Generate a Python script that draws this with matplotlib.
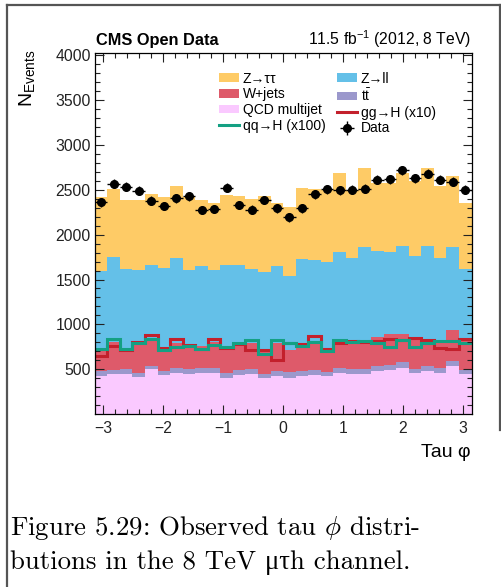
#!/usr/bin/env python3

import matplotlib

matplotlib.use("Agg")
import matplotlib.pyplot as plt
import numpy as np
from matplotlib.lines import Line2D
from matplotlib.patches import Patch

# tau phi, 30 bins from -pi to pi
N_BINS = 30
PHI_MIN = -np.pi
PHI_MAX = np.pi

# per-process bin contents (stack order: bottom to top)
QCD = [427, 442, 442, 416, 497, 434, 460, 442, 453, 453, 397, 434, 442, 405, 427,
       397, 427, 434, 423, 453, 442, 442, 483, 494, 516, 460, 475, 460, 538, 442]
TTBAR = [56, 48, 59, 44, 41, 45, 49, 63, 59, 56, 63, 56, 59, 41, 56,
         67, 52, 52, 49, 59, 55, 59, 55, 55, 59, 45, 56, 52, 56, 44]
WJETS = [230, 316, 212, 327, 287, 251, 278, 256, 249, 290, 301, 290, 289, 279, 304,
         249, 290, 313, 256, 268, 302, 286, 320, 342, 312, 345, 305, 275, 338, 350]
ZLL = [887, 949, 906, 820, 842, 900, 954, 846, 887, 808, 898, 879, 832, 860, 865,
       824, 961, 923, 965, 1031, 942, 1080, 957, 913, 987, 917, 1038, 954, 935, 783]
ZTT = [815, 752, 766, 778, 785, 785, 803, 815, 737, 741, 782, 771, 774, 845, 700,
       767, 789, 789, 811, 878, 755, 874, 763, 774, 815, 833, 874, 800, 792, 729]

GGH_X10 = [646, 757, 713, 806, 876, 739, 836, 772, 730, 840, 740, 776, 710, 710, 602,
           788, 780, 869, 728, 787, 817, 799, 813, 836, 825, 843, 828, 739, 724, 836]
QQH_X100 = [724, 832, 720, 797, 838, 710, 743, 755, 722, 774, 750, 795, 822, 672, 822,
            790, 758, 802, 702, 825, 806, 811, 787, 750, 821, 746, 787, 817, 817, 787]

DATA = [2363, 2570, 2533, 2489, 2378, 2319, 2407, 2430, 2274, 2285, 2526, 2330, 2281, 2388, 2293,
        2193, 2293, 2452, 2507, 2496, 2504, 2511, 2611, 2618, 2718, 2630, 2681, 2611, 2593, 2504]

Y_TICKS = [500, 1000, 1500, 2000, 2500, 3000, 3500, 4000]
X_TICKS = [-3, -2, -1, 0, 1, 2, 3]

COL_QCD = "#fac9ff"
COL_TT = "#9b98cc"
COL_W = "#de5a6a"
COL_ZLL = "#64c0e8"
COL_ZTT = "#fecb66"
COL_GGH = "#c3202c"
COL_QQH = "#14a083"

W_PX, H_PX = 502, 587
DPI = 100

plt.rcParams.update({
    "font.family": ["Liberation Sans", "DejaVu Sans"],
    "mathtext.fontset": "custom",
    "mathtext.rm": "Liberation Sans",
    "mathtext.it": "Liberation Sans:italic",
    "mathtext.bf": "Liberation Sans:bold",
    "axes.linewidth": 0.9,
})


def fx(px):
    return px / W_PX


def fy(py):
    return 1.0 - py / H_PX


def main():
    fig = plt.figure(figsize=(W_PX / DPI, H_PX / DPI), dpi=DPI)
    ax = fig.add_axes([fx(94.8), fy(414), fx(471.5) - fx(94.8), fy(52.7) - fy(414)])

    edges = np.linspace(PHI_MIN, PHI_MAX, N_BINS + 1)
    centers = 0.5 * (edges[:-1] + edges[1:])
    half = 0.5 * (edges[1] - edges[0])

    stack = [
        (QCD, COL_QCD),
        (TTBAR, COL_TT),
        (WJETS, COL_W),
        (ZLL, COL_ZLL),
        (ZTT, COL_ZTT),
    ]
    bottom = np.zeros(N_BINS)
    for values, color in stack:
        top = bottom + np.asarray(values, dtype=float)
        ax.stairs(top, edges, baseline=bottom, fill=True, color=color, lw=0)
        bottom = top

    ax.stairs(GGH_X10, edges, baseline=None, color=COL_GGH, lw=2.2)
    ax.stairs(QQH_X100, edges, baseline=None, color=COL_QQH, lw=2.2)

    data = np.asarray(DATA, dtype=float)
    data_handle = ax.errorbar(centers, data, yerr=np.sqrt(data), xerr=half, fmt="o",
                              color="black", ms=5.5, elinewidth=1.0, capsize=0, zorder=5)

    ax.set_xlim(PHI_MIN, PHI_MAX)
    ax.set_ylim(0, 4030)
    ax.set_xticks(X_TICKS)
    ax.set_yticks(Y_TICKS)
    ax.set_xticks(np.arange(-3.0, 3.01, 0.2), minor=True)
    ax.set_yticks(np.arange(100, 4001, 100), minor=True)
    ax.tick_params(which="both", direction="in", top=True, right=True, labelsize=11.3,
                   colors="#222222")
    ax.tick_params(which="major", length=6.5, width=0.8)
    ax.tick_params(which="minor", length=3.8, width=0.8)
    ax.tick_params(axis="x", pad=5)
    ax.tick_params(axis="y", pad=3)

    fig.text(fx(471), fy(457), "Tau φ", ha="right", va="baseline", fontsize=14)
    fig.text(fx(37), fy(50), r"N$_{\mathrm{Events}}$", rotation=90, ha="right", va="top",
             fontsize=14, math_fontfamily="custom")
    fig.text(fx(96), fy(45), "CMS Open Data", ha="left", va="baseline", fontsize=11.8,
             fontweight="bold")
    fig.text(fx(471), fy(45), r"11.5 fb$^{-1}$ (2012, 8 TeV)", ha="right", va="baseline",
             fontsize=11.3, math_fontfamily="custom")

    handles = [
        Patch(color=COL_ZTT, lw=0),
        Patch(color=COL_W, lw=0),
        Patch(color=COL_QCD, lw=0),
        Line2D([], [], color=COL_QQH, lw=2.2),
        Patch(color=COL_ZLL, lw=0),
        Patch(color=COL_TT, lw=0),
        Line2D([], [], color=COL_GGH, lw=2.2),
        data_handle,
    ]
    labels = [
        "Z→ττ", "W+jets", "QCD multijet", "qq→H (x100)",
        "Z→ll", r"t$\bar{\mathrm{t}}$", "gg→H (x10)", "Data",
    ]
    leg = ax.legend(handles, labels, ncol=2, loc="upper left",
                    bbox_to_anchor=(0.31, 0.967), frameon=False, fontsize=10,
                    borderpad=0, handlelength=1.45, handleheight=0.6,
                    handletextpad=0.3, columnspacing=0.8, labelspacing=0.12)
    for t in leg.get_texts():
        t.set_math_fontfamily("custom")

    # screenshot frame
    frame_kw = dict(color="#555555", lw=1.6, transform=fig.transFigure)
    fig.add_artist(Line2D([fx(7), fx(7)], [fy(5), 0.0], **frame_kw))
    fig.add_artist(Line2D([fx(7), fx(500)], [fy(5), fy(5)], **frame_kw))
    fig.add_artist(Line2D([fx(500), fx(500)], [fy(5), fy(430)], **frame_kw))

    cap_kw = dict(ha="left", va="baseline", fontsize=19.3,
                  family=["cmr10", "Liberation Serif"], math_fontfamily="cm")
    fig.text(fx(10), fy(535), r"Figure 5.29: Observed tau $\phi$ distri-", **cap_kw)
    fig.text(fx(10), fy(569), "butions in the 8 TeV μτh channel.", **cap_kw)

    fig.savefig("out.png", dpi=DPI, facecolor="white")
    plt.close(fig)


if __name__ == "__main__":
    main()
